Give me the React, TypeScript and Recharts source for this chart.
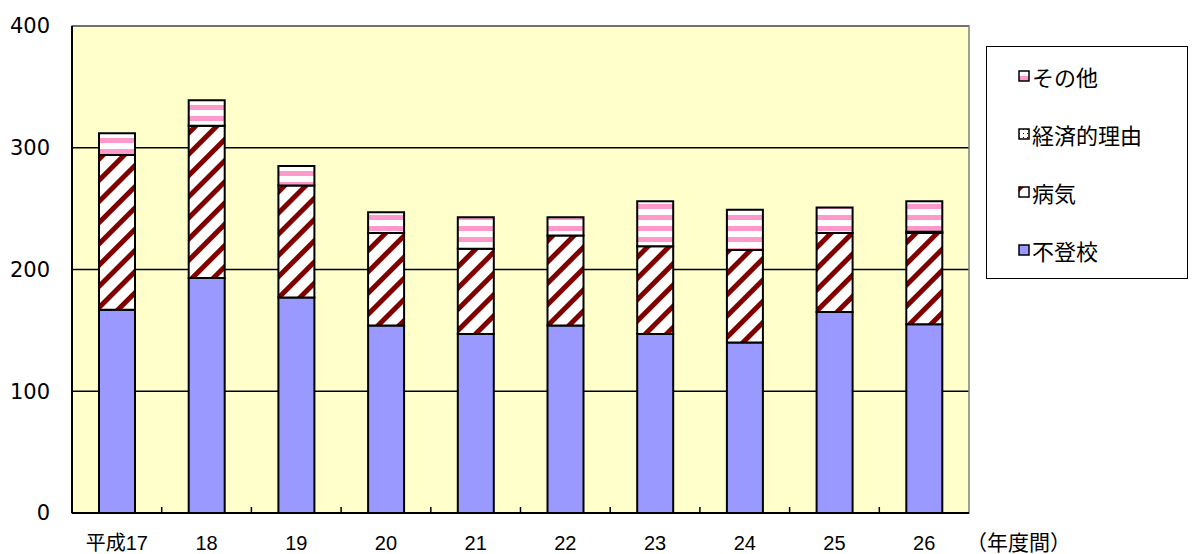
import { BarChart, Bar, XAxis, YAxis, CartesianGrid, ReferenceArea } from 'recharts';

const categories = ['平成17', '18', '19', '20', '21', '22', '23', '24', '25', '26'];
const futoko = [167, 193, 177, 154, 147, 154, 147, 140, 165, 155];
const byoki = [127, 125, 92, 76, 70, 74, 72, 76, 65, 75];
const keizai = [0, 0, 0, 0, 0, 0, 0, 0, 0, 1];
const sonota = [18, 21, 16, 17, 26, 15, 37, 33, 21, 25];
const yTicks = [0, 100, 200, 300, 400];

const series = [
  { key: 'futoko', name: '不登校', fill: '#9999FF' },
  { key: 'byoki', name: '病気', fill: 'url(#pByoki)' },
  { key: 'keizai', name: '経済的理由', fill: 'url(#pKeizai)' },
  { key: 'sonota', name: 'その他', fill: 'url(#pSonota)' },
];

const data = categories.map((name, i) => ({
  name,
  futoko: futoko[i],
  byoki: byoki[i],
  keizai: keizai[i],
  sonota: sonota[i],
}));

const W = 1192;
const H = 554;
const M = { top: 26, right: 223, left: 0, bottom: 0 };
const Y_W = 72;
const X_H = 41;
const step = (W - Y_W - M.right) / categories.length;
const font = '"Liberation Sans", "Noto Sans CJK JP", sans-serif';
const numFont = '"DejaVu Sans", sans-serif';
const jpFont = '"Noto Sans CJK JP", sans-serif';

function XTick(props: any) {
  const { x, y, payload, index } = props;
  return (
    <g>
      {index < categories.length - 1 && (
        <line x1={x + step / 2} x2={x + step / 2} y1={y} y2={y - 6} stroke="#000" strokeWidth={1.5} />
      )}
      <text x={x} y={y} dy={37} textAnchor="middle" fontSize={20} fill="#000" fontFamily={font}>
        {payload.value}
      </text>
    </g>
  );
}

function LegendBox() {
  const items = [...series].reverse();
  return (
    <div
      style={{
        position: 'absolute',
        left: 986,
        top: 46,
        width: 202,
        height: 233,
        border: '1.5px solid #000',
        background: '#fff',
        boxSizing: 'border-box',
        fontFamily: jpFont,
      }}
    >
      {items.map((it) => (
        <div key={it.key} style={{ display: 'flex', alignItems: 'center', height: 58, paddingLeft: 31 }}>
          <svg width={12} height={12} style={{ marginRight: 2 }}>
            <rect x={1} y={1} width={10} height={10} fill={it.fill} stroke="#000" strokeWidth={1.5} />
          </svg>
          <span style={{ fontSize: 22, color: '#000', lineHeight: '26px' }}>{it.name}</span>
        </div>
      ))}
    </div>
  );
}

export default function App() {
  return (
    <div style={{ position: 'absolute', left: 0, top: 0, width: W, height: H, background: '#fff' }}>
      <BarChart width={W} height={H} data={data} margin={M} barSize={36}>
        <defs>
          <pattern id="pByoki" width={15} height={15} patternUnits="userSpaceOnUse" patternTransform="rotate(45)">
            <rect width={15} height={15} fill="#fff" />
            <rect width={5} height={15} fill="#800000" />
          </pattern>
          <pattern id="pSonota" width={11} height={11} patternUnits="userSpaceOnUse">
            <rect width={11} height={11} fill="#fff" />
            <rect y={6} width={11} height={5} fill="#FF99CC" />
          </pattern>
          <pattern id="pKeizai" width={4} height={4} patternUnits="userSpaceOnUse">
            <rect width={4} height={4} fill="#fff" />
            <rect x={1} y={1} width={1} height={1} fill="#000080" />
          </pattern>
        </defs>
        <CartesianGrid fill="#FFFFCC" vertical={false} stroke="#000" strokeWidth={1.5} />
        <ReferenceArea y1={0} y2={400} fill="none" stroke="#808080" strokeWidth={1.5} ifOverflow="visible" />
        <XAxis
          dataKey="name"
          height={X_H}
          tickLine={false}
          tickSize={0}
          tickMargin={0}
          axisLine={{ stroke: '#000', strokeWidth: 2 }}
          tick={<XTick />}
          interval={0}
        />
        <YAxis
          width={Y_W}
          domain={[0, 400]}
          ticks={yTicks}
          tickLine={false}
          tickSize={0}
          tickMargin={22}
          axisLine={{ stroke: '#000', strokeWidth: 2 }}
          tick={{ fontSize: 21, fill: '#000', fontFamily: numFont }}
        />
        {series.map((s) => (
          <Bar
            key={s.key}
            dataKey={s.key}
            name={s.name}
            stackId="a"
            fill={s.fill}
            stroke="#000"
            strokeWidth={2}
            isAnimationActive={false}
          />
        ))}
      </BarChart>
      <LegendBox />
      <div
        style={{
          position: 'absolute',
          left: 966,
          top: 530,
          fontSize: 21,
          lineHeight: '22px',
          fontFamily: jpFont,
          color: '#000',
          whiteSpace: 'nowrap',
        }}
      >
        （年度間）
      </div>
    </div>
  );
}
